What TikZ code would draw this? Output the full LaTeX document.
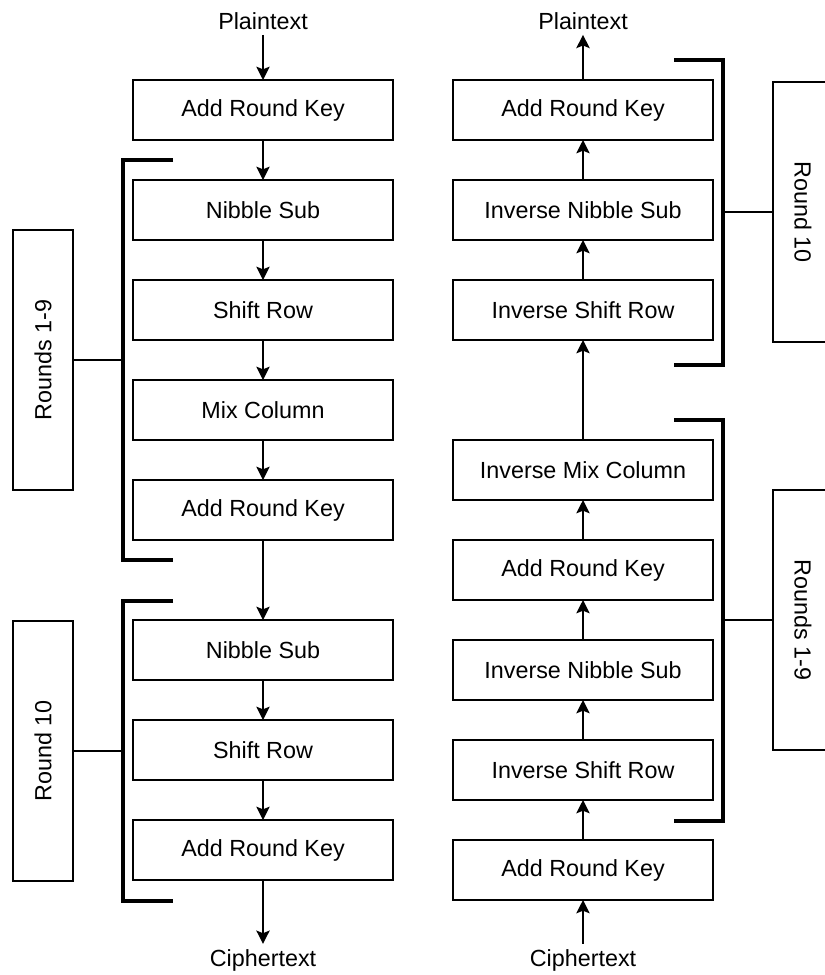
\documentclass[tikz,border=0pt]{standalone}
\usepackage{fontspec}
\setmainfont{Liberation Sans}
\usetikzlibrary{positioning}
\usetikzlibrary{arrows.meta}
\tikzset{stage/.style={draw, line width=1.3pt, minimum width=195pt, minimum height=45pt, inner sep=0pt, outer sep=0pt}}
\tikzset{rnd/.style={draw, line width=1.3pt, minimum width=195pt, minimum height=45pt, inner sep=0pt, outer sep=0pt}}
\tikzset{brk/.style={line width=2.6pt}}
\tikzset{link/.style={line width=1.6pt}}

\begin{document}
\begin{tikzpicture}[x=0.75pt,y=-0.75pt,node distance=30pt,>={Stealth[length=10pt,width=10pt,inset=2pt]},line width=1.2pt,font=\fontsize{17.5}{21}\selectfont]
\useasboundingbox (0,0) rectangle (825,975);
%% encryption
\path node (lplain) at (263,21) {Plaintext};
\path node[stage] (lark1) at (263,110) {Add Round Key};
\path node[stage, below =of lark1] (lnib1) {Nibble Sub};
\path node[stage, below =of lnib1] (lshift1) {Shift Row};
\path node[stage, below =of lshift1] (lmix) {Mix Column};
\path node[stage, below =of lmix] (lark2) {Add Round Key};
\path node[stage, below =60pt of lark2] (lnib2) {Nibble Sub};
\path node[stage, below =of lnib2] (lshift2) {Shift Row};
\path node[stage, below =of lshift2] (lark3) {Add Round Key};
\path node (lcipher) at (263,960) {Ciphertext};
\path[->] (lplain) edge (lark1);
\path[->] (lark1) edge (lnib1);
\path[->] (lnib1) edge (lshift1);
\path[->] (lshift1) edge (lmix);
\path[->] (lmix) edge (lark2);
\path[->] (lark2) edge (lnib2);
\path[->] (lnib2) edge (lshift2);
\path[->] (lshift2) edge (lark3);
\path[->] (lark3) edge (lcipher);
\path node[rnd, rotate=90] (lrnd19) at (43,360) {Rounds 1-9};
\path node[rnd, rotate=90] (lrnd10) at (43,751) {Round 10};
\coordinate (lb1a) at (173,160); \coordinate (lb1b) at (173,560); \coordinate (lb1m) at (123,360);
\coordinate (lb2a) at (173,601); \coordinate (lb2b) at (173,901); \coordinate (lb2m) at (123,751);
\draw[brk] (lb1a) -- ++(-50,0) |- (lb1b);
\draw[brk] (lb2a) -- ++(-50,0) |- (lb2b);
\draw[link] (lb1m) -- (lrnd19);
\draw[link] (lb2m) -- (lrnd10);
%% decryption
\path node (rplain) at (583,21) {Plaintext};
\path node[stage] (rark1) at (583,110) {Add Round Key};
\path node[stage, below =of rark1] (rnib1) {Inverse Nibble Sub};
\path node[stage, below =of rnib1] (rshift1) {Inverse Shift Row};
\path node[stage, below =75pt of rshift1] (rmix) {Inverse Mix Column};
\path node[stage, below =of rmix] (rark2) {Add Round Key};
\path node[stage, below =of rark2] (rnib2) {Inverse Nibble Sub};
\path node[stage, below =of rnib2] (rshift2) {Inverse Shift Row};
\path node[stage, below =of rshift2] (rark3) {Add Round Key};
\path node (rcipher) at (583,960) {Ciphertext};
\path[->] (rcipher) edge (rark3);
\path[->] (rark3) edge (rshift2);
\path[->] (rshift2) edge (rnib2);
\path[->] (rnib2) edge (rark2);
\path[->] (rark2) edge (rmix);
\path[->] (rmix) edge (rshift1);
\path[->] (rshift1) edge (rnib1);
\path[->] (rnib1) edge (rark1);
\path[->] (rark1) edge (rplain);
\path node[rnd, rotate=-90] (rrnd10) at (803,212) {Round 10};
\path node[rnd, rotate=-90] (rrnd19) at (803,620) {Rounds 1-9};
\coordinate (rb1a) at (674,60); \coordinate (rb1b) at (674,365); \coordinate (rb1m) at (723,212);
\coordinate (rb2a) at (674,420); \coordinate (rb2b) at (674,821); \coordinate (rb2m) at (723,620);
\draw[brk] (rb1a) -- ++(49,0) |- (rb1b);
\draw[brk] (rb2a) -- ++(49,0) |- (rb2b);
\draw[link] (rb1m) -- (rrnd10);
\draw[link] (rb2m) -- (rrnd19);
\end{tikzpicture}
\end{document}
